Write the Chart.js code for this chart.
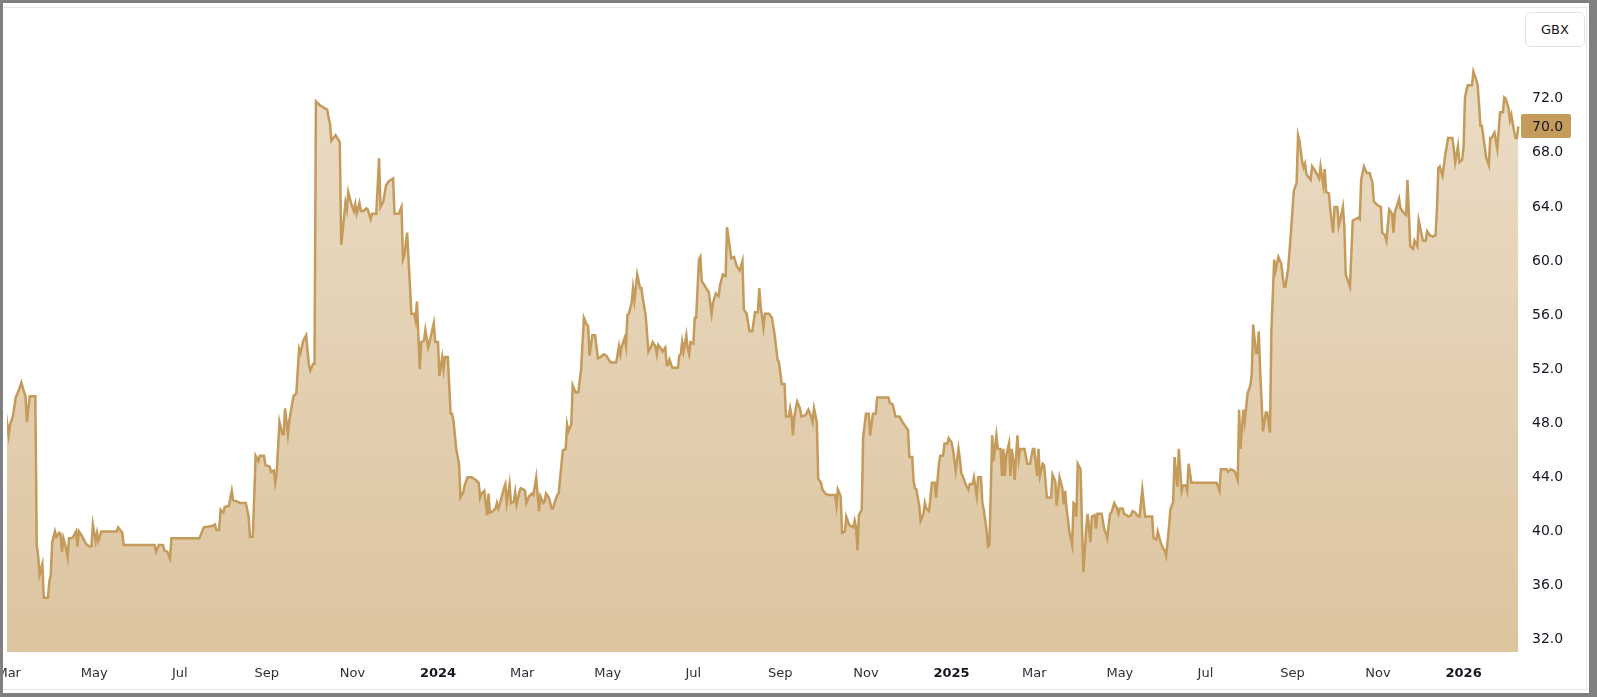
<!DOCTYPE html>
<html>
<head>
<meta charset="utf-8">
<title>GBX price chart</title>
<script src="https://cdn.jsdelivr.net/npm/chart.js@4.4.1/dist/chart.umd.min.js"></script>
<style>
  html, body { margin: 0; padding: 0; width: 1597px; height: 697px; overflow: hidden; background: #808080; }
  #card { position: absolute; left: 3px; top: 3px; width: 1586px; height: 690px; background: #fff; overflow: hidden; }
  #frame { position: absolute; left: -1px; top: 4px; width: 1585px; height: 683px; border: 1px solid #e6e6e6; box-sizing: border-box; }
  #chart { position: absolute; left: -3px; top: -3px; }
  #unit {
    position: absolute; left: 1522px; top: 9px; width: 60px; height: 35px;
    box-sizing: border-box; border: 1px solid #e0e3eb; border-radius: 6px; background: #fff;
    font: 13px "DejaVu Sans", sans-serif; color: #131722;
    display: flex; align-items: center; justify-content: center;
  }
</style>
</head>
<body>
<div id="card">
  <div id="frame"></div>
  <canvas id="chart" width="1597" height="697"></canvas>
  <div id="unit">GBX</div>
</div>
<script>
// --- Data: x = days since 1 Jan 2023, y = price in GBX ---
const days = [
  57, 59, 60, 62, 64, 66, 68, 70, 71, 72, 74, 78, 79, 80, 81, 83, 84, 87, 88, 89,
  90, 92, 93, 95, 96, 97, 98, 100, 101, 102, 104, 105, 107, 108, 109, 111, 114, 116, 118, 119,
  121, 122, 123, 125, 136, 137, 140, 141, 163, 164, 166, 169, 170, 172, 174, 175, 195, 198, 204, 206,
  207, 209, 210, 212, 213, 216, 218, 219, 222, 224, 228, 230, 231, 233, 235, 237, 238, 241, 242, 245,
  246, 248, 249, 250, 252, 254, 255, 256, 258, 259, 261, 262, 264, 266, 267, 269, 271, 273, 274, 276,
  277, 278, 281, 286, 287, 288, 289, 292, 295, 296, 298, 299, 300, 301, 303, 305, 306, 307, 309, 310,
  312, 314, 315, 317, 318, 321, 323, 324, 326, 328, 330, 333, 334, 337, 339, 340, 341, 343, 344, 345,
  346, 348, 349, 350, 352, 353, 355, 356, 358, 359, 362, 363, 365, 366, 368, 369, 370, 372, 374, 375,
  376, 378, 380, 381, 383, 384, 386, 389, 392, 394, 395, 396, 398, 400, 401, 402, 404, 406, 407, 408,
  409, 412, 413, 414, 416, 417, 419, 420, 421, 423, 424, 426, 427, 428, 430, 432, 433, 435, 437, 438,
  440, 441, 442, 444, 446, 447, 448, 450, 451, 452, 454, 456, 457, 458, 460, 461, 463, 465, 467, 469,
  471, 472, 473, 475, 477, 479, 481, 483, 485, 488, 492, 494, 495, 496, 498, 499, 500, 501, 503, 504,
  505, 507, 509, 510, 511, 513, 515, 517, 518, 520, 521, 522, 524, 525, 527, 528, 529, 530, 532, 536,
  537, 538, 539, 540, 542, 543, 544, 545, 547, 548, 549, 551, 552, 553, 555, 556, 558, 560, 561, 563,
  565, 566, 568, 570, 571, 574, 576, 578, 580, 582, 583, 585, 587, 589, 591, 593, 594, 595, 597, 598,
  601, 603, 605, 607, 608, 610, 612, 613, 615, 616, 617, 618, 619, 621, 623, 624, 627, 629, 631, 632,
  633, 635, 636, 638, 639, 641, 643, 648, 649, 650, 652, 653, 655, 656, 658, 659, 661, 662, 663, 664,
  665, 667, 668, 670, 672, 673, 675, 677, 678, 686, 687, 689, 690, 691, 694, 696, 698, 700, 701, 703,
  704, 705, 706, 708, 709, 711, 712, 713, 715, 716, 717, 719, 720, 722, 723, 725, 726, 728, 729, 731,
  732, 733, 734, 736, 737, 738, 739, 741, 743, 744, 746, 747, 749, 750, 752, 753, 754, 756, 757, 758,
  760, 761, 762, 763, 764, 766, 767, 768, 769, 770, 772, 773, 774, 775, 776, 778, 779, 780, 783, 785,
  787, 789, 790, 792, 793, 794, 796, 797, 799, 802, 803, 805, 806, 808, 810, 811, 812, 813, 815, 817,
  818, 819, 820, 821, 823, 824, 825, 827, 828, 830, 831, 833, 834, 835, 838, 840, 841, 842, 844, 845,
  847, 849, 850, 851, 853, 854, 856, 857, 859, 860, 862, 863, 865, 867, 869, 874, 875, 877, 878, 880,
  882, 883, 884, 886, 887, 889, 890, 892, 893, 895, 896, 898, 899, 900, 902, 920, 922, 923, 927, 928,
  930, 932, 933, 935, 936, 937, 939, 940, 942, 944, 945, 946, 948, 949, 950, 951, 953, 955, 956, 958,
  959, 961, 962, 964, 966, 968, 969, 971, 973, 975, 977, 978, 979, 981, 982, 983, 984, 987, 988, 990,
  991, 993, 994, 996, 997, 998, 1000, 1001, 1003, 1004, 1006, 1007, 1009, 1010, 1011, 1012, 1015, 1016, 1017, 1019,
  1021, 1022, 1023, 1025, 1027, 1029, 1031, 1032, 1033, 1035, 1037, 1038, 1040, 1041, 1043, 1045, 1046, 1047, 1048, 1050,
  1051, 1053, 1055, 1056, 1057, 1058, 1060, 1061, 1063, 1064, 1065, 1067, 1069, 1070, 1072, 1074, 1076, 1077, 1078, 1079,
  1081, 1083, 1085, 1088, 1089, 1090, 1092, 1093, 1095, 1096, 1097, 1098, 1099, 1102, 1103, 1105, 1106, 1107, 1108, 1109,
  1111, 1112, 1114, 1115, 1116, 1118, 1119, 1120, 1121, 1122, 1124, 1125, 1126, 1128, 1129, 1130, 1132, 1133, 1134, 1135
];
const prices = [
  48.7, 47.1, 47.9, 48.5, 49.9, 50.4, 51.0, 50.3, 50.0, 48.1, 50.0, 50.0, 39.0, 38.2, 36.8, 37.6, 35.1, 35.1, 36.3, 36.8,
  39.2, 40.0, 39.6, 39.9, 39.8, 38.5, 39.5, 38.7, 38.1, 39.5, 39.5, 39.6, 40.0, 38.9, 40.0, 39.7, 39.1, 38.9, 38.9, 40.5,
  39.3, 39.9, 39.3, 40.0, 40.0, 40.3, 39.9, 39.0, 39.0, 38.5, 39.0, 39.0, 38.6, 38.5, 38.0, 39.5, 39.5, 40.3, 40.4, 40.5,
  40.1, 40.1, 41.6, 41.4, 41.8, 41.9, 43.0, 42.3, 42.2, 42.1, 42.1, 41.1, 39.6, 39.6, 45.6, 45.2, 45.6, 45.6, 44.9, 44.8,
  44.4, 44.5, 43.6, 44.3, 48.1, 47.2, 47.2, 49.1, 47.2, 48.2, 49.4, 50.0, 50.2, 53.5, 53.2, 54.1, 54.5, 52.3, 51.9, 52.4,
  52.4, 71.8, 71.5, 71.2, 70.6, 70.2, 68.9, 69.3, 68.8, 61.2, 63.2, 64.3, 63.8, 65.1, 64.3, 63.7, 64.2, 63.5, 64.3, 63.7,
  63.7, 63.9, 63.8, 63.1, 63.5, 63.5, 67.6, 64.0, 64.4, 65.6, 65.9, 66.1, 63.5, 63.5, 64.0, 60.1, 60.4, 62.1, 60.1, 58.2,
  56.1, 56.1, 55.6, 57.0, 52.0, 54.0, 54.1, 54.9, 53.6, 54.0, 55.4, 54.0, 54.0, 51.5, 52.9, 52.0, 52.9, 52.9, 48.7, 48.7,
  48.2, 46.1, 45.0, 42.5, 42.9, 43.4, 44.0, 44.0, 43.8, 43.6, 42.5, 42.8, 43.0, 41.2, 42.8, 41.4, 41.5, 41.7, 42.1, 41.7,
  42.0, 43.2, 43.5, 42.1, 43.5, 42.1, 42.2, 42.9, 42.0, 42.9, 43.2, 43.1, 43.0, 42.1, 42.6, 42.8, 42.7, 44.0, 41.5, 42.6,
  42.1, 42.2, 42.8, 42.5, 41.7, 41.7, 42.1, 42.7, 42.8, 43.9, 46.0, 46.1, 47.9, 47.4, 47.9, 50.8, 50.3, 50.3, 52.0, 55.8,
  55.3, 55.2, 53.0, 54.5, 54.5, 52.8, 52.9, 53.1, 53.0, 52.5, 52.5, 53.7, 53.1, 53.7, 54.3, 53.7, 56.0, 56.1, 56.9, 58.0,
  57.1, 59.0, 58.0, 58.0, 57.2, 56.0, 53.3, 53.7, 54.0, 53.7, 53.1, 53.8, 53.5, 53.3, 53.6, 52.3, 52.3, 52.7, 52.1, 52.1,
  53.0, 53.1, 54.0, 53.3, 54.5, 53.5, 53.1, 54.0, 53.9, 55.8, 55.8, 60.1, 60.3, 58.5, 58.2, 58.0, 57.7, 56.1, 56.9, 57.6,
  57.4, 58.2, 59.0, 58.9, 62.5, 60.2, 60.3, 59.6, 59.3, 60.0, 56.4, 56.1, 54.8, 54.8, 56.2, 56.2, 58.0, 56.6, 55.1, 56.1,
  56.1, 55.8, 54.5, 52.7, 52.5, 50.9, 50.9, 48.5, 48.5, 49.1, 48.5, 47.1, 48.5, 49.6, 49.1, 48.5, 48.6, 49.0, 48.5, 48.1,
  49.1, 48.1, 43.9, 43.6, 43.1, 42.8, 42.7, 42.7, 41.9, 43.1, 42.6, 39.9, 40.0, 41.1, 40.5, 40.4, 40.3, 40.8, 40.3, 38.6,
  41.2, 41.6, 46.9, 48.7, 48.7, 47.1, 48.7, 48.7, 49.9, 49.9, 49.5, 49.4, 49.0, 48.5, 48.5, 48.1, 47.8, 47.5, 45.5, 45.5,
  43.7, 43.2, 43.1, 41.9, 40.8, 41.3, 42.1, 41.7, 41.5, 42.5, 43.6, 43.6, 42.5, 45.0, 45.6, 45.6, 46.5, 46.5, 46.9, 46.6,
  46.1, 45.3, 44.5, 46.1, 45.3, 44.3, 44.1, 43.5, 43.1, 43.5, 43.5, 44.0, 42.6, 44.0, 44.0, 42.1, 41.6, 40.1, 38.9, 39.0,
  47.1, 45.2, 46.2, 47.1, 46.1, 46.1, 44.1, 46.1, 44.1, 45.6, 46.5, 44.1, 46.1, 45.3, 43.8, 47.1, 45.4, 46.1, 46.1, 45.0,
  45.0, 46.1, 46.1, 44.1, 46.1, 44.1, 45.0, 44.9, 42.5, 42.5, 44.2, 43.7, 41.9, 44.0, 43.2, 42.0, 43.0, 41.7, 40.0, 39.0,
  42.1, 42.0, 41.1, 45.0, 44.6, 40.5, 37.0, 40.2, 41.3, 39.2, 41.1, 41.2, 40.2, 41.3, 41.3, 40.1, 39.9, 39.5, 41.3, 41.4,
  42.1, 41.7, 41.3, 41.7, 41.7, 41.3, 41.2, 41.1, 41.2, 41.5, 41.4, 41.2, 41.1, 43.1, 41.1, 41.1, 39.5, 39.4, 40.0, 39.2,
  38.7, 38.6, 38.2, 40.3, 41.6, 42.2, 45.5, 43.3, 46.1, 43.0, 43.4, 43.4, 43.0, 45.0, 43.6, 43.6, 43.0, 44.6, 44.6, 44.4,
  44.6, 44.5, 44.4, 43.8, 49.0, 46.1, 49.0, 48.1, 50.2, 50.8, 51.6, 55.3, 53.2, 53.2, 54.8, 51.9, 47.4, 48.8, 48.8, 47.3,
  54.8, 60.1, 59.3, 60.3, 59.8, 58.1, 58.1, 59.5, 62.2, 65.2, 65.8, 69.3, 68.9, 67.3, 66.9, 67.2, 66.4, 66.0, 67.0, 66.7,
  66.5, 66.1, 67.0, 65.6, 66.8, 65.1, 65.0, 63.8, 62.1, 64.0, 64.0, 62.6, 63.5, 64.0, 62.5, 59.0, 58.1, 60.6, 63.0, 63.1,
  63.2, 63.1, 66.0, 67.0, 66.5, 66.5, 65.8, 64.4, 64.3, 64.1, 64.0, 62.1, 61.9, 61.5, 63.8, 63.5, 62.1, 63.6, 63.9, 64.6,
  63.9, 63.6, 63.4, 66.0, 63.5, 61.1, 60.9, 61.5, 61.1, 63.0, 62.5, 61.5, 61.5, 62.2, 61.9, 61.8, 61.9, 63.8, 66.9, 67.0,
  66.3, 67.9, 69.1, 69.1, 68.3, 67.3, 68.5, 67.3, 67.5, 68.5, 72.1, 72.6, 73.0, 73.0, 74.0, 73.4, 73.0, 71.6, 70.0, 70.0,
  68.5, 67.7, 67.1, 69.1, 69.1, 69.5, 68.9, 68.3, 69.7, 71.0, 71.0, 72.1, 72.0, 71.3, 70.4, 70.8, 69.6, 69.1, 69.1, 69.96
];

// x axis: first day of every second month (days since 1 Jan 2023)
const monthTicks = [59, 120, 181, 243, 304, 365, 425, 486, 547, 609, 670, 731, 790, 851, 912, 974, 1035, 1096];
const monthLabels = ['Mar', 'May', 'Jul', 'Sep', 'Nov', '2024', 'Mar', 'May', 'Jul', 'Sep', 'Nov', '2025', 'Mar', 'May', 'Jul', 'Sep', 'Nov', '2026'];
const priceTicks = [32, 36, 40, 44, 48, 52, 56, 60, 64, 68, 72];

const lineColor = '#c49b5b';
const fillTop = 'rgba(196, 155, 91, 0.32)';
const fillBottom = 'rgba(196, 155, 91, 0.59)';
const fontFamily = '"DejaVu Sans", sans-serif';

// --- last price tag on the right scale ---
const lastPriceTag = {
    id: 'lastPriceTag',
    afterDraw(chart) {
        const yScale = chart.scales.y;
        const last = prices[prices.length - 1];
        const y = yScale.getPixelForValue(last);
        const ctx = chart.ctx;
        ctx.save();
        ctx.fillStyle = lineColor;
        ctx.beginPath();
        ctx.roundRect(yScale.left + 1, Math.round(y) - 12, 50, 24, 2);
        ctx.fill();
        ctx.fillStyle = '#131722';
        ctx.font = '14px ' + fontFamily;
        ctx.textBaseline = 'middle';
        ctx.textAlign = 'left';
        ctx.fillText(last.toFixed(1), yScale.left + 12, y + 1);
        ctx.restore();
    }
};

const ctx = document.getElementById('chart').getContext('2d');
new Chart(ctx, {
    type: 'line',
    data: {
        datasets: [{
            data: days.map((d, i) => ({ x: d, y: prices[i] })),
            borderColor: lineColor,
            borderWidth: 2.5,
            pointRadius: 0,
            tension: 0,
            fill: 'start',
            backgroundColor: (c) => {
                const area = c.chart.chartArea;
                if (!area) return fillBottom;
                const g = c.chart.ctx.createLinearGradient(0, area.top, 0, area.bottom);
                g.addColorStop(0, fillTop);
                g.addColorStop(1, fillBottom);
                return g;
            }
        }]
    },
    options: {
        responsive: false,
        animation: false,
        events: [],
        layout: { padding: { left: 7, top: 6, right: 0, bottom: 0 } },
        plugins: { legend: { display: false }, tooltip: { enabled: false } },
        scales: {
            x: {
                type: 'linear',
                min: 57.8,
                max: 1136.2,
                grid: { display: false, drawTicks: false },
                border: { display: false },
                afterBuildTicks: (s) => { s.ticks = monthTicks.map(v => ({ value: v })); },
                afterFit: (s) => { s.height = 45; s.paddingLeft = 0; s.paddingRight = 0; },
                ticks: {
                    autoSkip: false,
                    maxRotation: 0,
                    padding: 14,
                    callback: (v) => monthLabels[monthTicks.indexOf(v)],
                    font: (c) => (c.tick && /^\d{4}$/.test(c.tick.label))
                        ? { family: fontFamily, size: 13, weight: 'bold' }
                        : { family: fontFamily, size: 13 },
                    color: (c) => (c.tick && /^\d{4}$/.test(c.tick.label)) ? '#131722' : '#2e3038'
                }
            },
            y: {
                position: 'right',
                min: 31.08,
                max: 78.86,
                grid: { display: false, drawTicks: false },
                border: { display: false },
                afterBuildTicks: (s) => { s.ticks = priceTicks.map(v => ({ value: v })); },
                afterFit: (s) => { s.width = 77; s.paddingTop = 0; s.paddingBottom = 0; },
                ticks: {
                    padding: 12,
                    callback: (v) => v.toFixed(1),
                    font: { family: fontFamily, size: 14 },
                    color: '#131722'
                }
            }
        }
    },
    plugins: [lastPriceTag]
});
</script>
</body>
</html>
